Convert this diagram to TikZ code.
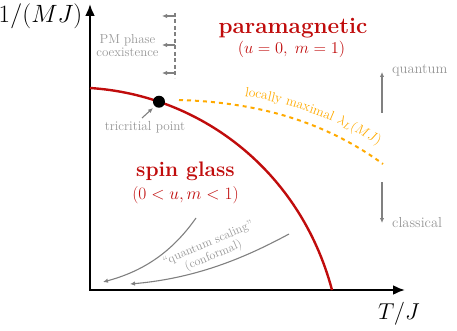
\RequirePackage{fix-cm}
\documentclass[tikz,border=0pt]{standalone}
\usetikzlibrary{arrows.meta,decorations.text}
\definecolor{critred}{RGB}{192,12,12}
\definecolor{lgray}{RGB}{150,150,150}
\definecolor{agray}{RGB}{128,128,128}
\definecolor{lmorange}{RGB}{255,170,0}
\tikzset{
  axisline/.style={line width=2.3pt, {Latex[length=12pt,width=10pt]}-{Latex[length=12pt,width=10pt]}},
  critline/.style={draw=critred, line width=2.4pt},
  hint/.style={draw=agray, line width=1.1pt, -{Latex[length=5pt,width=4.5pt]}},
  lmline/.style={draw=lmorange, line width=2pt, dash pattern=on 4pt off 4pt},
  pmline/.style={draw=agray, line width=1.3pt, dash pattern=on 4pt off 2.5pt},
  phase/.style={text=critred, font=\fontsize{21}{24}\selectfont\bfseries, inner sep=0pt},
  phaseeq/.style={text=critred, font=\fontsize{17}{20}\selectfont, inner sep=0pt},
  axlabel/.style={font=\fontsize{23}{26}\selectfont, inner sep=0pt},
  note/.style={text=lgray, font=\fontsize{13}{13}\selectfont, inner sep=0pt, align=center},
  dot/.style={circle, fill=black, minimum size=12pt, inner sep=0pt},
}
\begin{document}
\begin{tikzpicture}[x=1pt,y=-1pt]
\useasboundingbox (0,0) rectangle (457,331);
% axes
\coordinate (O) at (90,290);
\coordinate (ytop) at (90,4);
\coordinate (xend) at (405,290);
\draw[axisline] (ytop) -- (O) -- (xend);
\node[axlabel, font=\fontsize{25}{28}\selectfont] (ylab) at (40.5,16) {$1/(MJ)$};
\node[axlabel] (xlab) at (399,314) {$T/J$};
% critical line
\coordinate (cs) at (90,88);
\coordinate (ce) at (332,290);
\draw[critline] (cs) .. controls (200,95) and (300,170) .. (ce)
  node[pos=0.215, dot] (tc) {};
% locally maximal line
\coordinate (ls) at (179,100);
\coordinate (lc1) at (250,102);
\coordinate (lc2) at (320,118);
\coordinate (le) at (383,164);
\draw[lmline] (ls) .. controls (lc1) and (lc2) .. (le);
% text path, parallel above the line
\coordinate (ts) at (179,90);
\coordinate (tc1) at (250,92);
\coordinate (tc2) at (322,107);
\coordinate (te) at (388,152);
\begin{scope}[y=1pt]
\path[decorate, decoration={text along path, raise=0pt,
   text align={left indent=66pt},
   text={|\fontsize{13.5}{13}\selectfont\color{lmorange}|locally maximal {$\lambda_L(MJ)$}}}]
   (ts) .. controls (tc1) and (tc2) .. (te);
\end{scope}
% phases
\node[phase, font=\fontsize{22.5}{26}\selectfont\bfseries] (para) at (293,28.5) {paramagnetic};
\node[phaseeq, font=\fontsize{16.5}{20}\selectfont] (paraeq) at (291.5,49.5) {$(u=0,\;m=1)$};
\node[phase] (sg) at (185.5,171.5) {spin glass};
\node[phaseeq, font=\fontsize{17.4}{20}\selectfont] (sgeq) at (185.5,195) {$(0<u,m<1)$};
% PM coexistence
\node[note] (pm) at (127.5,45.5) {PM phase\\coexistence};
\coordinate (pmt) at (175,13);
\coordinate (pmb) at (175,78);
\draw[pmline] (pmt) -- (pmb);
\coordinate (a1s) at (175,16); \coordinate (a1e) at (162,16);
\coordinate (a2s) at (175,45); \coordinate (a2e) at (162,45);
\coordinate (a3s) at (175,73); \coordinate (a3e) at (162,73);
\draw[hint] (a1s) -- (a1e);
\draw[hint] (a2s) -- (a2e);
\draw[hint] (a3s) -- (a3e);
% tricritical
\node[note, font=\fontsize{13.2}{13}\selectfont] (tcl) at (145,127) {tricritial point};
\coordinate (tas) at (142,118);
\coordinate (tae) at (153,108);
\draw[hint] (tas) -- (tae);
% quantum / classical
\coordinate (qs) at (382,113); \coordinate (qe) at (382,72);
\coordinate (cls) at (382,182); \coordinate (cle) at (382,223);
\draw[hint] (qs) -- (qe);
\draw[hint] (cls) -- (cle);
\node[note, font=\fontsize{14.5}{15}\selectfont, anchor=west] (qlab) at (392,70) {quantum};
\node[note, font=\fontsize{14.5}{15}\selectfont, anchor=west] (clab) at (392,223) {classical};
% quantum scaling arrows
\coordinate (s1s) at (196,218); \coordinate (s1e) at (103,282);
\coordinate (s2s) at (289,234); \coordinate (s2e) at (130,284);
\draw[hint] (s1s) .. controls (170,255) and (140,272) .. (s1e);
\draw[hint] (s2s) .. controls (250,255) and (200,278) .. (s2e);
\node[note, font=\fontsize{12.2}{13.5}\selectfont, rotate=23] (qsc) at (211,250) {``quantum scaling''\\(conformal)};
\end{tikzpicture}
\end{document}
